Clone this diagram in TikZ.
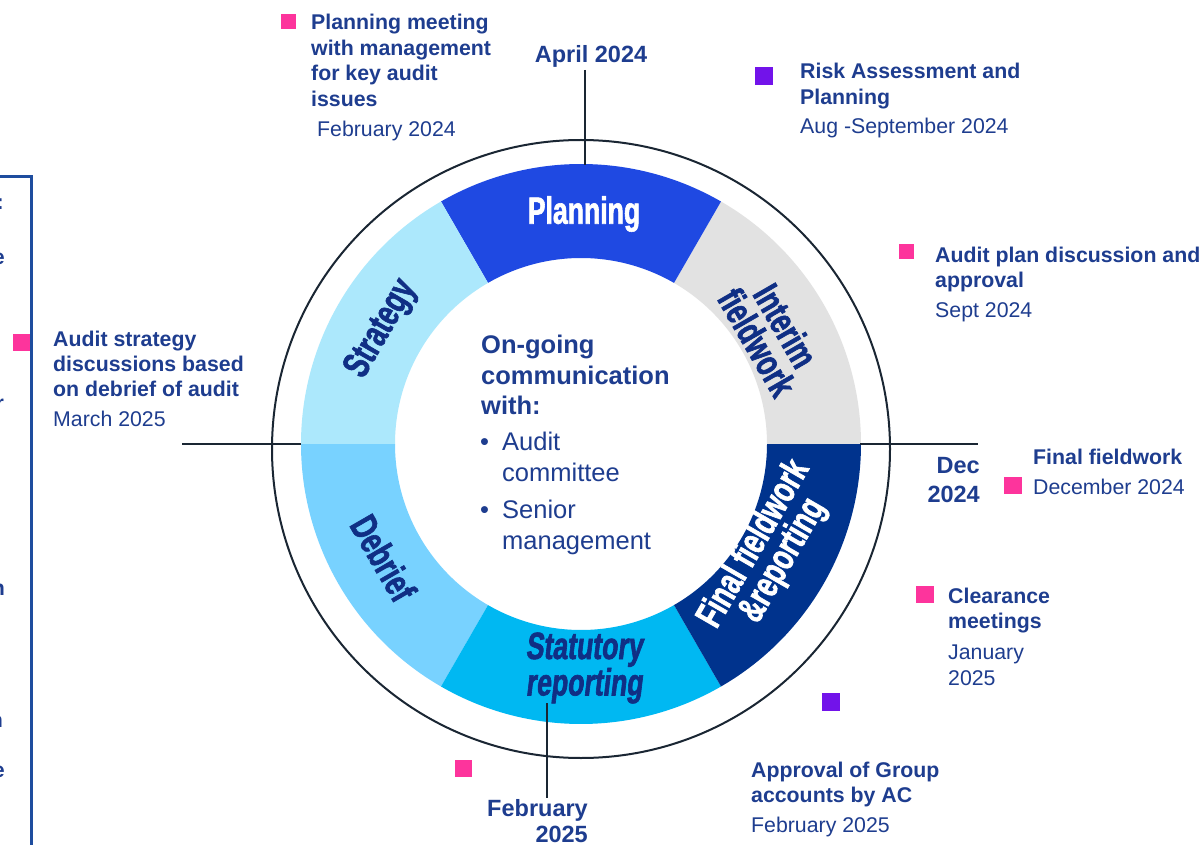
\documentclass[tikz,border=0pt]{standalone}
\usepackage{fontspec}
\setmainfont{Liberation Sans}
\newfontfamily\segfont{Liberation Sans}[FakeStretch=0.7,FakeBold=1.6]
\newfontfamily\segslant{Liberation Sans}[FakeStretch=0.7,FakeSlant=0.12,FakeBold=1.6]
\definecolor{navy}{HTML}{1E3D8F}
\definecolor{segnavy}{HTML}{102F85}
\definecolor{pinkc}{HTML}{FD349C}
\definecolor{purplec}{HTML}{7213EA}
\definecolor{boxblue}{HTML}{1E4D9E}
\definecolor{axis}{HTML}{1A2633}
\definecolor{cPlan}{HTML}{1F49E2}
\definecolor{cInt}{HTML}{E2E2E2}
\definecolor{cFin}{HTML}{00338D}
\definecolor{cStat}{HTML}{00B8F2}
\definecolor{cDeb}{HTML}{78D2FF}
\definecolor{cStr}{HTML}{ACE8FC}
\tikzset{
  hd/.style={anchor=base west, inner sep=0pt, text=navy, font=\bfseries\fontsize{21.3}{25}\selectfont},
  dt/.style={anchor=base west, inner sep=0pt, text=navy, font=\fontsize{21.3}{25}\selectfont},
  ax/.style={inner sep=0pt, text=navy, font=\bfseries\fontsize{23.5}{28}\selectfont},
  ct/.style={anchor=base west, inner sep=0pt, text=navy, font=\bfseries\fontsize{25.5}{31}\selectfont},
  cr/.style={anchor=base west, inner sep=0pt, text=navy, font=\fontsize{25.5}{31}\selectfont},
  seglbl/.style={inner sep=0pt, align=center, font=\segfont\bfseries\fontsize{38}{33}\selectfont},
  axisline/.style={draw=axis, line width=2pt},
  frag/.style={anchor=base east, inner sep=0pt, text=navy, font=\bfseries\fontsize{21.3}{25}\selectfont}
}
\begin{document}
\begin{tikzpicture}[x=1pt, y=-1pt]
\useasboundingbox (0,0) rectangle (1203,845);
\fill[white] (0,0) rectangle (1203,845);

% ring segments
\begin{scope}[shift={(581,444)}, y=1pt]
  \fill[cInt]  (0:280)   arc[start angle=0,   end angle=60,  radius=280] -- (60:186)  arc[start angle=60,  end angle=0,   radius=186] -- cycle;
  \fill[cPlan] (60:280)  arc[start angle=60,  end angle=120, radius=280] -- (120:186) arc[start angle=120, end angle=60,  radius=186] -- cycle;
  \fill[cStr]  (120:280) arc[start angle=120, end angle=180, radius=280] -- (180:186) arc[start angle=180, end angle=120, radius=186] -- cycle;
  \fill[cDeb]  (180:280) arc[start angle=180, end angle=240, radius=280] -- (240:186) arc[start angle=240, end angle=180, radius=186] -- cycle;
  \fill[cStat] (240:280) arc[start angle=240, end angle=300, radius=280] -- (300:186) arc[start angle=300, end angle=240, radius=186] -- cycle;
  \fill[cFin]  (300:280) arc[start angle=300, end angle=360, radius=280] -- (0:186)   arc[start angle=360, end angle=300, radius=186] -- cycle;

  \node[seglbl, text=white] (planning) at (3,230) {Planning};
  \node[seglbl, text=segnavy, rotate=-60] (interim) at (30:220) {Interim\\fieldwork};
  \node[seglbl, text=white, rotate=60] (final) at (-30:217) {Final fieldwork\\\&reporting};
  \node[seglbl, text=segnavy, font=\segslant\bfseries\fontsize{38}{33}\selectfont] (statutory) at (3,-224) {Statutory\\reporting};
  \node[seglbl, text=segnavy, rotate=-60] (debrief) at (210:228) {Debrief};
  \node[seglbl, text=segnavy, rotate=60] (strategy) at (150:230) {Strategy};
\end{scope}

% outer circle
\draw[draw=axis, line width=2pt] (581,449) circle[radius=309];

% axis lines
\coordinate (topA) at (585,70);
\coordinate (topB) at (585,165);
\coordinate (leftA) at (182,444);
\coordinate (leftB) at (301,444);
\coordinate (rightA) at (860,444);
\coordinate (rightB) at (978,444);
\coordinate (botA) at (547,703);
\coordinate (botB) at (547,798);
\draw[axisline] (topA) -- (topB);
\draw[axisline] (leftA) -- (leftB);
\draw[axisline] (rightA) -- (rightB);
\draw[axisline] (botA) -- (botB);

% axis labels
\node[ax, anchor=base] (apr) at (591,63) {April 2024};
\node[ax, anchor=base east] (dec1) at (980,473.5) {Dec};
\node[ax, anchor=base east] (dec2) at (980,502) {2024};
\node[ax, anchor=base east] (feb1) at (588,816) {February};
\node[ax, anchor=base east] (feb2) at (588,842) {2025};

% centre text
\node[ct] (c1) at (481,353) {On-going};
\node[ct] (c2) at (481,384) {communication};
\node[ct] (c3) at (481,414.5) {with:};
\node[cr] (c4b) at (480,450) {•};
\node[cr] (c4) at (502,450) {Audit};
\node[cr] (c5) at (502,481) {committee};
\node[cr] (c6b) at (480,518) {•};
\node[cr] (c6) at (502,518) {Senior};
\node[cr] (c7) at (502,549) {management};

% block A
\fill[pinkc] (281,14) rectangle (296,29);
\node[hd] (a1) at (311,30) {Planning meeting};
\node[hd] (a2) at (311,55.5) {with management};
\node[hd] (a3) at (311,81) {for key audit};
\node[hd] (a4) at (311,106.5) {issues};
\node[dt] (a5) at (317,136.5) {February 2024};

% block B
\fill[purplec] (755,67) rectangle (773,85);
\node[hd] (b1) at (800,79) {Risk Assessment and};
\node[hd] (b2) at (800,104.5) {Planning};
\node[dt] (b3) at (800,134) {Aug -September 2024};

% block C
\fill[pinkc] (899,244) rectangle (914,259);
\node[hd] (cc1) at (935,262.5) {Audit plan discussion and};
\node[hd] (cc2) at (935,288) {approval};
\node[dt] (cc3) at (935,318) {Sept 2024};

% block D
\fill[pinkc] (1004,477) rectangle (1022,494);
\node[hd] (d1) at (1033,464) {Final fieldwork};
\node[dt] (d2) at (1033,494.5) {December 2024};

% block E
\fill[pinkc] (916,586) rectangle (934,603);
\node[hd] (e1) at (948,603) {Clearance};
\node[hd] (e2) at (948,628.5) {meetings};
\node[dt] (e3) at (948,659.5) {January};
\node[dt] (e4) at (948,685) {2025};

% block F
\fill[purplec] (822,693) rectangle (840,711);
\node[hd] (f1) at (751,777) {Approval of Group};
\node[hd] (f2) at (751,802.5) {accounts by AC};
\node[dt] (f3) at (751,832.5) {February 2025};
\fill[pinkc] (455,760) rectangle (472,777);

% block G
\fill[pinkc] (13,334) rectangle (30,351);
\node[hd] (g1) at (53,346) {Audit strategy};
\node[hd] (g2) at (53,371) {discussions based};
\node[hd] (g3) at (53,396.5) {on debrief of audit};
\node[dt] (g4) at (53,426) {March 2025};

% left box (cut off)
\draw[draw=boxblue, line width=3pt] (-10,177) -- (31,177) -- (31,860);
\node[frag] (fr1) at (4,210) {:};
\node[frag] (fr2) at (5,265) {e};
\node[frag] (fr3) at (4,410) {r};
\node[frag] (fr4) at (5,595) {n};
\node[frag] (fr5) at (3,727) {n};
\node[frag] (fr6) at (5,777) {e};
\end{tikzpicture}
\end{document}
